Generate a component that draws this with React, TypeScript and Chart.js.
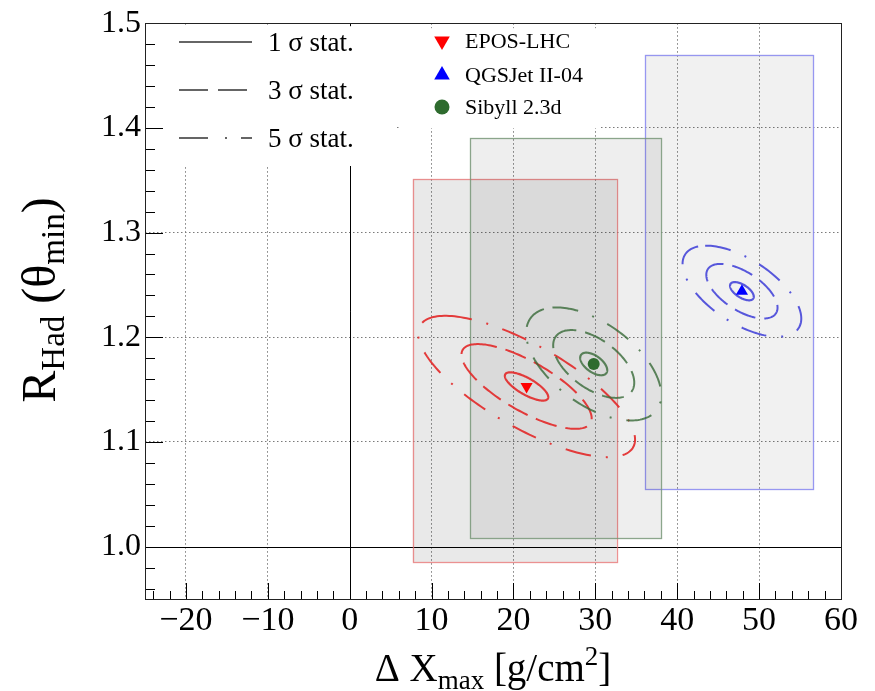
import React, { useEffect, useRef } from "react";
import { Chart, registerables } from "chart.js";
Chart.register(...registerables);

// ---- data ----
const modelNames = ["EPOS-LHC", "QGSJet II-04", "Sibyll 2.3d"];
const centerX = [21.6, 47.9, 29.8];
const centerY = [1.153, 1.244, 1.1745];
const statSigmaX = [2.65, 1.45, 1.65];
const statSigmaY = [0.0135, 0.0087, 0.0108];
const statRho = [-0.75, -0.6, -0.55];
const sysXLow = [7.7, 36.1, 14.7];
const sysXHigh = [32.6, 56.6, 38.0];
const sysYLow = [0.985, 1.055, 1.008];
const sysYHigh = [1.351, 1.47, 1.39];
const sigmaLevels = [1, 3, 5];
const sigmaLabels = ["1 σ stat.", "3 σ stat.", "5 σ stat."];
const xTickValues = [-20, -10, 0, 10, 20, 30, 40, 50, 60];
const xTickLabels = ["−20", "−10", "0", "10", "20", "30", "40", "50", "60"];
const yTickValues = [1.0, 1.1, 1.2, 1.3, 1.4, 1.5];
const yTickLabels = ["1.0", "1.1", "1.2", "1.3", "1.4", "1.5"];
const xRange = [-25, 60];
const yRange = [0.95, 1.5];

// ---- styles ----
const FONT = "'Liberation Serif', 'Times New Roman', serif";
const markerColors = ["#ff0000", "#0000ff", "#2e6b2e"];
const markerStyles = ["triangle", "triangle", "circle"];
const markerRotations = [180, 0, 0];
const contourColors = ["rgba(226,40,40,0.9)", "rgba(60,60,215,0.85)", "rgba(55,105,55,0.8)"];
const boxFill = ["rgba(0,0,0,0.085)", "rgba(0,0,0,0.055)", "rgba(0,0,0,0.065)"];
const boxEdge = ["rgba(230,110,110,0.75)", "rgba(140,140,240,0.9)", "rgba(120,150,120,0.85)"];
const levelDash = [[], [22, 9], [26, 15, 2, 15]];
const levelWidth = [2.2, 2, 2];

type Seg = { t: string; size: number; dy: number };
function drawSegs(ctx: CanvasRenderingContext2D, segs: Seg[], cx: number, baseY: number) {
  let total = 0;
  for (const s of segs) {
    ctx.font = `${s.size}px ${FONT}`;
    total += ctx.measureText(s.t).width;
  }
  let xx = cx - total / 2;
  ctx.textAlign = "left";
  ctx.textBaseline = "alphabetic";
  for (const s of segs) {
    ctx.font = `${s.size}px ${FONT}`;
    ctx.fillText(s.t, xx, baseY + s.dy);
    xx += ctx.measureText(s.t).width;
  }
}

function triangle(ctx: CanvasRenderingContext2D, x: number, y: number, r: number, down: boolean) {
  ctx.beginPath();
  const s = down ? -1 : 1;
  ctx.moveTo(x, y - s * r);
  ctx.lineTo(x + r * 0.866, y + s * r * 0.5);
  ctx.lineTo(x - r * 0.866, y + s * r * 0.5);
  ctx.closePath();
  ctx.fill();
}

const rootPlugin = {
  id: "rootStyle",
  beforeDatasetsDraw(chart: any) {
    const { ctx, chartArea: ca, scales } = chart;
    const xs = scales.x, ys = scales.y;
    ctx.save();
    // solid reference lines
    ctx.strokeStyle = "#000";
    ctx.lineWidth = 1;
    ctx.setLineDash([]);
    const x0 = Math.round(xs.getPixelForValue(0)) + 0.5;
    ctx.beginPath();
    ctx.moveTo(x0, ca.top);
    ctx.lineTo(x0, ca.bottom);
    ctx.stroke();
    const y1 = Math.round(ys.getPixelForValue(1.0)) + 0.5;
    ctx.beginPath();
    ctx.moveTo(ca.left, y1);
    ctx.lineTo(ca.right, y1);
    ctx.stroke();
    // legend backgrounds
    ctx.fillStyle = "#fff";
    ctx.fillRect(ca.left + 1, ca.top + 3, 396 - ca.left, 163 - ca.top);
    ctx.fillRect(400, ca.top + 5, 200, 100);
    // systematic boxes
    for (let m = 0; m < modelNames.length; m++) {
      const l = xs.getPixelForValue(sysXLow[m]);
      const r = xs.getPixelForValue(sysXHigh[m]);
      const t = ys.getPixelForValue(sysYHigh[m]);
      const b = ys.getPixelForValue(sysYLow[m]);
      ctx.fillStyle = boxFill[m];
      ctx.fillRect(l, t, r - l, b - t);
      ctx.strokeStyle = boxEdge[m];
      ctx.lineWidth = 1.3;
      ctx.strokeRect(Math.round(l) + 0.5, Math.round(t) + 0.5, Math.round(r - l), Math.round(b - t));
    }
    // statistical contours
    for (let m = 0; m < modelNames.length; m++) {
      const rho = statRho[m];
      const q = Math.sqrt(1 - rho * rho);
      for (let k = 0; k < sigmaLevels.length; k++) {
        const n = sigmaLevels[k];
        ctx.beginPath();
        const N = 180;
        for (let i = 0; i <= N; i++) {
          const th = (2 * Math.PI * i) / N + 2.4;
          const dx = n * statSigmaX[m] * Math.cos(th);
          const dy = n * statSigmaY[m] * (rho * Math.cos(th) + q * Math.sin(th));
          const px = xs.getPixelForValue(centerX[m] + dx);
          const py = ys.getPixelForValue(centerY[m] + dy);
          if (i === 0) ctx.moveTo(px, py);
          else ctx.lineTo(px, py);
        }
        ctx.strokeStyle = contourColors[m];
        ctx.lineWidth = levelWidth[k];
        ctx.setLineDash(levelDash[k]);
        ctx.stroke();
      }
    }
    ctx.restore();
  },
  afterDraw(chart: any) {
    const { ctx, chartArea: ca, scales } = chart;
    const xs = scales.x, ys = scales.y;
    ctx.save();
    ctx.strokeStyle = "#000";
    ctx.lineWidth = 1;
    ctx.setLineDash([]);
    // inward ticks on x
    for (let i = -12; i <= 30; i++) {
      const v = i * 2;
      const px = Math.round(xs.getPixelForValue(v)) + 0.5;
      const major = v % 10 === 0;
      const len = major ? 16 : 8;
      ctx.beginPath();
      ctx.moveTo(px, ca.bottom);
      ctx.lineTo(px, ca.bottom - len);
      ctx.stroke();
    }
    // inward ticks on y
    for (let i = 48; i <= 75; i++) {
      const v = i * 0.02;
      const py = Math.round(ys.getPixelForValue(v)) + 0.5;
      const major = i % 5 === 0;
      const len = major ? 18 : 10;
      ctx.beginPath();
      ctx.moveTo(ca.left, py);
      ctx.lineTo(ca.left + len, py);
      ctx.stroke();
    }
    // frame
    ctx.strokeStyle = "#222";
    ctx.strokeRect(Math.round(ca.left) + 0.5, Math.round(ca.top) + 0.5, Math.round(ca.right - ca.left), Math.round(ca.bottom - ca.top));

    // legend 1 (contour levels)
    const rowsY1 = [42, 90, 138];
    ctx.fillStyle = "#000";
    for (let k = 0; k < sigmaLevels.length; k++) {
      ctx.strokeStyle = "#333";
      ctx.lineWidth = 1.4;
      ctx.setLineDash(k === 0 ? [] : k === 1 ? [29, 10] : [29, 17, 2, 14]);
      ctx.beginPath();
      ctx.moveTo(179, rowsY1[k]);
      ctx.lineTo(252, rowsY1[k]);
      ctx.stroke();
      ctx.setLineDash([]);
      ctx.font = `27px ${FONT}`;
      ctx.textAlign = "left";
      ctx.textBaseline = "middle";
      ctx.fillText(sigmaLabels[k], 268, rowsY1[k] + 2);
    }
    // legend 2 (models)
    const rowsY2 = [41, 75, 107];
    for (let m = 0; m < modelNames.length; m++) {
      ctx.fillStyle = markerColors[m];
      if (markerStyles[m] === "circle") {
        ctx.beginPath();
        ctx.arc(442, rowsY2[m], 7.5, 0, Math.PI * 2);
        ctx.fill();
      } else {
        triangle(ctx, 442, rowsY2[m], 9, markerRotations[m] === 180);
      }
      ctx.fillStyle = "#000";
      ctx.font = `22px ${FONT}`;
      ctx.textAlign = "left";
      ctx.textBaseline = "middle";
      ctx.fillText(modelNames[m], 465, rowsY2[m] + 1);
    }

    // axis titles
    ctx.fillStyle = "#000";
    const cx = (ca.left + ca.right) / 2;
    drawSegs(ctx, [
      { t: "Δ X", size: 39, dy: 0 },
      { t: "max", size: 27, dy: 8 },
      { t: " [g/cm", size: 39, dy: 0 },
      { t: "2", size: 27, dy: -16 },
      { t: "]", size: 39, dy: 0 },
    ], cx, 681);
    ctx.save();
    ctx.translate(55, 300);
    ctx.rotate(-Math.PI / 2);
    drawSegs(ctx, [
      { t: "R", size: 48, dy: 0 },
      { t: "Had", size: 33, dy: 9 },
      { t: " (θ", size: 48, dy: 0 },
      { t: "min", size: 33, dy: 9 },
      { t: ")", size: 48, dy: 0 },
    ], 0, 0);
    ctx.restore();
    ctx.restore();
  },
};

export default function App() {
  const ref = useRef<HTMLCanvasElement | null>(null);
  useEffect(() => {
    document.body.style.margin = "0";
    const canvas = ref.current;
    if (!canvas) return;
    const datasets = modelNames.map((name, m) => ({
      label: name,
      data: [{ x: centerX[m], y: centerY[m] }],
      pointStyle: markerStyles[m] as any,
      rotation: markerRotations[m],
      pointRadius: markerStyles[m] === "circle" ? 6 : 7,
      backgroundColor: markerColors[m],
      borderColor: markerColors[m],
      borderWidth: 0,
      showLine: false,
    }));
    const chart = new Chart(canvas, {
      type: "scatter",
      data: { datasets },
      options: {
        animation: false,
        responsive: false,
        maintainAspectRatio: false,
        events: [],
        layout: { padding: { top: 17, right: 34, left: 0, bottom: 0 } },
        plugins: { legend: { display: false }, tooltip: { enabled: false } },
        scales: {
          x: {
            type: "linear",
            min: xRange[0],
            max: xRange[1],
            afterBuildTicks: (s: any) => {
              s.ticks = xTickValues.map((v) => ({ value: v }));
            },
            afterFit: (s: any) => {
              s.height = 92;
            },
            ticks: {
              autoSkip: false,
              maxRotation: 0,
              padding: 2,
              color: "#000",
              font: { family: FONT, size: 34 },
              callback: (v: any) => {
                const i = xTickValues.indexOf(Number(v));
                return i >= 0 ? xTickLabels[i] : "";
              },
            },
            grid: {
              drawTicks: false,
              lineWidth: 1,
              color: (c: any) => (c.tick && (c.tick.value === 0 || c.tick.value === 60) ? "rgba(0,0,0,0)" : "#7a7a7a"),
            },
            border: { display: false, dash: [1.5, 2.5] },
          },
          y: {
            type: "linear",
            min: yRange[0],
            max: yRange[1],
            afterBuildTicks: (s: any) => {
              s.ticks = yTickValues.map((v) => ({ value: v }));
            },
            afterFit: (s: any) => {
              s.width = 145;
            },
            ticks: {
              autoSkip: false,
              padding: 4,
              color: "#000",
              font: { family: FONT, size: 32 },
              callback: (v: any) => {
                const i = yTickValues.findIndex((t) => Math.abs(t - Number(v)) < 1e-6);
                return i >= 0 ? yTickLabels[i] : "";
              },
            },
            grid: {
              drawTicks: false,
              lineWidth: 1,
              color: (c: any) => (c.tick && (Math.abs(c.tick.value - 1.0) < 1e-6 || Math.abs(c.tick.value - 1.5) < 1e-6) ? "rgba(0,0,0,0)" : "#7a7a7a"),
            },
            border: { display: false, dash: [1.5, 2.5] },
          },
        },
      },
      plugins: [rootPlugin],
    });
    return () => chart.destroy();
  }, []);
  return (
    <div style={{ width: 875, height: 691, background: "#fff" }}>
      <canvas ref={ref} width={875} height={691} style={{ display: "block", width: 875, height: 691 }} />
    </div>
  );
}
